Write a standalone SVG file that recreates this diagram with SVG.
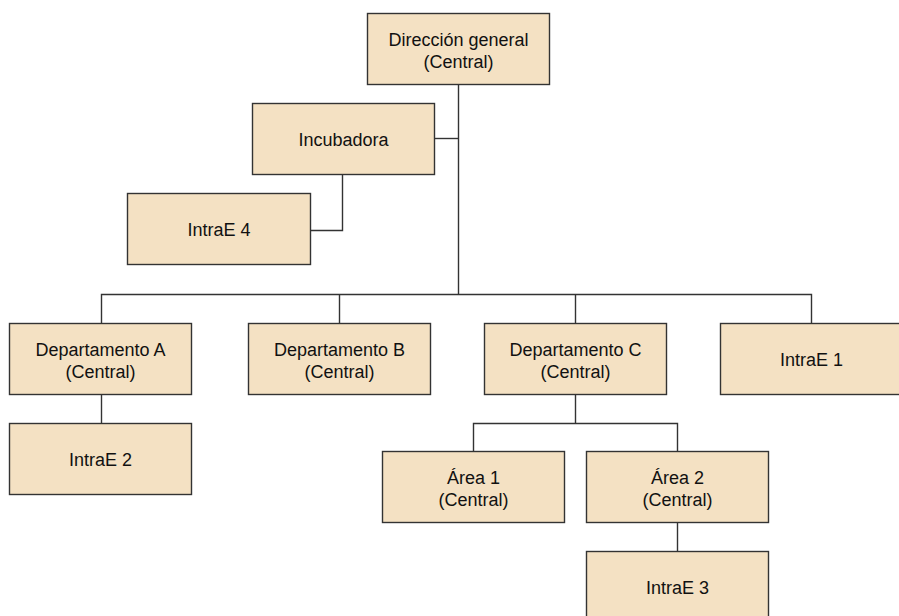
<svg xmlns="http://www.w3.org/2000/svg" width="899" height="616" viewBox="0 0 899 616">
<style>
.box{fill:#F4E1C3;stroke:#333333;stroke-width:1.4}
.t{font-family:"Liberation Sans",Arial,sans-serif;font-size:18px;fill:#111111;text-anchor:middle}
.c{fill:none;stroke:#333333;stroke-width:1.4}
</style>
<rect width="899" height="616" fill="#ffffff"/>
<g id="connectors">
<path class="c" d="M458.5 84.5V294.5"/>
<path class="c" d="M434.5 138.5H458.5"/>
<path class="c" d="M342.5 174.5V230.5H310.5"/>
<path class="c" d="M101.5 323.5V294.5H811.5V323.5"/>
<path class="c" d="M339.5 294.5V323.5"/>
<path class="c" d="M575.5 294.5V323.5"/>
<path class="c" d="M101.5 394.5V423.5"/>
<path class="c" d="M575.5 394.5V423.5"/>
<path class="c" d="M473.5 451.5V423.5H677.5V451.5"/>
<path class="c" d="M677.5 522.5V551.5"/>
</g>
<g id="n-direccion"><rect class="box" x="367.5" y="13.5" width="182" height="71"/><text class="t" x="458.5" y="45.5">Dirección general</text><text class="t" x="458.5" y="67.5">(Central)</text></g>
<g id="n-incubadora"><rect class="box" x="252.5" y="103.5" width="182" height="71"/><text class="t" x="343.5" y="146">Incubadora</text></g>
<g id="n-intrae4"><rect class="box" x="127.5" y="193.5" width="183" height="71"/><text class="t" x="219" y="236">IntraE 4</text></g>
<g id="n-depA"><rect class="box" x="9.5" y="323.5" width="182" height="71"/><text class="t" x="100.5" y="355.5">Departamento A</text><text class="t" x="100.5" y="377.5">(Central)</text></g>
<g id="n-depB"><rect class="box" x="248.5" y="323.5" width="182" height="71"/><text class="t" x="339.5" y="355.5">Departamento B</text><text class="t" x="339.5" y="377.5">(Central)</text></g>
<g id="n-depC"><rect class="box" x="484.5" y="323.5" width="182" height="71"/><text class="t" x="575.5" y="355.5">Departamento C</text><text class="t" x="575.5" y="377.5">(Central)</text></g>
<g id="n-intrae1"><rect class="box" x="720.5" y="323.5" width="182" height="71"/><text class="t" x="811.5" y="366">IntraE 1</text></g>
<g id="n-intrae2"><rect class="box" x="9.5" y="423.5" width="182" height="71"/><text class="t" x="100.5" y="466">IntraE 2</text></g>
<g id="n-area1"><rect class="box" x="382.5" y="451.5" width="182" height="71"/><text class="t" x="473.5" y="483.5">Área 1</text><text class="t" x="473.5" y="505.5">(Central)</text></g>
<g id="n-area2"><rect class="box" x="586.5" y="451.5" width="182" height="71"/><text class="t" x="677.5" y="483.5">Área 2</text><text class="t" x="677.5" y="505.5">(Central)</text></g>
<g id="n-intrae3"><rect class="box" x="586.5" y="551.5" width="182" height="71"/><text class="t" x="677.5" y="594">IntraE 3</text></g>
</svg>
